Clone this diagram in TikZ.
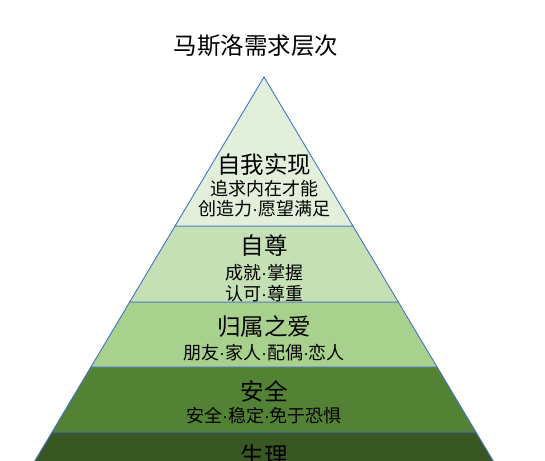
\documentclass[tikz,border=0pt]{standalone}
\usepackage{fontspec}
\newfontfamily\cjk{Noto Sans CJK SC}
\newfontfamily\latinf{Liberation Sans}
\newcommand\mdot{{\latinf ·}}
\definecolor{edgeblue}{HTML}{4472C4}
\definecolor{lvA}{HTML}{E2EFDA}
\definecolor{lvB}{HTML}{C5E0B4}
\definecolor{lvC}{HTML}{A9D18E}
\definecolor{lvD}{HTML}{548235}
\definecolor{lvE}{HTML}{385723}
\begin{document}
\begin{tikzpicture}[x=1pt,y=-1pt,
  layer/.style={draw=edgeblue, line width=0.9pt, line join=miter},
  big/.style={font=\cjk\fontsize{23.5}{26}\selectfont, inner sep=0pt, text=black},
  small/.style={font=\cjk\fontsize{18}{20}\selectfont, inner sep=0pt, text=black}]
\useasboundingbox (0,0) rectangle (545,460);
\begin{scope}
\clip (0,0) rectangle (545,460);
% layers, bottom to top
\filldraw[layer, fill=lvE] (52.1,432) -- (475.9,432) -- (498.6,470) -- (29.4,470) -- cycle;
\filldraw[layer, fill=lvD] (90.9,367) -- (437.1,367) -- (475.9,432) -- (52.1,432) -- cycle;
\filldraw[layer, fill=lvC] (129.7,302) -- (398.3,302) -- (437.1,367) -- (90.9,367) -- cycle;
\filldraw[layer, fill=lvB] (175.05,226) -- (352.95,226) -- (398.3,302) -- (129.7,302) -- cycle;
\filldraw[layer, fill=lvA] (264,77) -- (352.95,226) -- (175.05,226) -- cycle;
\end{scope}
% title
\node[big] (title) at (256,46) {马斯洛需求层次};
% level 5
\node[big] (l5) at (264,165) {自我实现};
\node[small] (l5a) at (264,189) {追求内在才能};
\node[small] (l5b) at (264,209) {创造力\mdot 愿望满足};
% level 4
\node[big] (l4) at (264,246) {自尊};
\node[small] (l4a) at (264,273) {成就\mdot 掌握};
\node[small] (l4b) at (264,294) {认可\mdot 尊重};
% level 3
\node[big] (l3) at (264,327) {归属之爱};
\node[small] (l3a) at (264,353) {朋友\mdot 家人\mdot 配偶\mdot 恋人};
% level 2
\node[big] (l2) at (264,391) {安全};
\node[small] (l2a) at (264,416) {安全\mdot 稳定\mdot 免于恐惧};
% level 1
\begin{scope}
\clip (0,0) rectangle (545,460);
\node[big] (l1) at (264,455) {生理};
\end{scope}
\end{tikzpicture}
\end{document}
